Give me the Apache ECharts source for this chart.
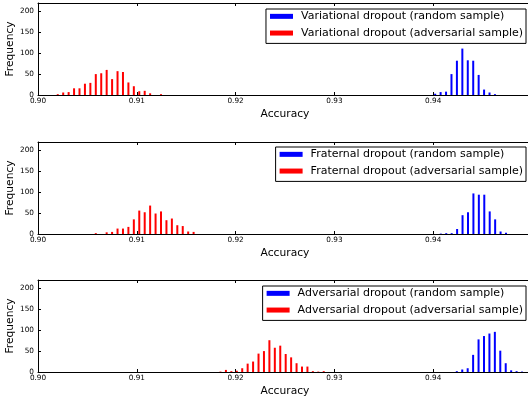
<!DOCTYPE html>
<html>
<head>
<meta charset="utf-8">
<script src="https://cdn.jsdelivr.net/npm/echarts@6/dist/echarts.min.js"></script>
<style>
  html, body { margin: 0; padding: 0; background: #fff; }
  #chart { width: 528px; height: 401px; }
</style>
</head>
<body>
<div id="chart"></div>
<script>
// bin centres and counts
var variationalRandBins = [0.9402, 0.94075, 0.9413, 0.94185, 0.9424, 0.94295, 0.9435, 0.94405, 0.9446, 0.94515, 0.9457, 0.94625]
var variationalRand = [3, 7, 8, 50, 82, 111, 83, 82, 48, 13, 6, 2]
var variationalAdvBins = [0.902, 0.90255, 0.9031, 0.90365, 0.9042, 0.90475, 0.9053, 0.90585, 0.9064, 0.90695,
    0.9075, 0.90805, 0.9086, 0.90915, 0.9097, 0.91025, 0.9108, 0.91135, 0.9119, 0.91245]
var variationalAdv = [2, 6, 7, 16, 16, 27, 29, 50, 52, 60, 38, 57, 55, 30, 21, 9, 10, 4, 0, 2]

var fraternalRandBins = [0.94077, 0.94132, 0.94187, 0.94242, 0.94297, 0.94352, 0.94407, 0.94462, 0.94517,
    0.94572, 0.94627, 0.94682, 0.94737]
var fraternalRand = [1, 2, 2, 12, 45, 52, 97, 94, 94, 54, 35, 6, 3]
var fraternalAdvBins = [0.90585, 0.9064, 0.90695, 0.9075, 0.90805, 0.9086, 0.90915, 0.9097, 0.91025, 0.9108,
    0.91135, 0.9119, 0.91245, 0.913, 0.91355, 0.9141, 0.91465, 0.9152, 0.91575]
var fraternalAdv = [2, 0, 4, 5, 13, 13, 17, 35, 56, 52, 68, 49, 54, 33, 37, 21, 19, 6, 5]

var adversarialRandBins = [0.94239, 0.94294, 0.94349, 0.94404, 0.94459, 0.94514, 0.94569, 0.94624, 0.94679,
    0.94734, 0.94789, 0.94844, 0.94899]
var adversarialRand = [2, 6, 9, 41, 78, 86, 92, 96, 51, 21, 4, 2, 1]
var adversarialAdvBins = [0.91847, 0.91902, 0.91957, 0.92012, 0.92067, 0.92122, 0.92177, 0.92232, 0.92287,
    0.92342, 0.92397, 0.92452, 0.92507, 0.92562, 0.92617, 0.92672, 0.92727, 0.92782, 0.92837, 0.92892]
var adversarialAdv = [1, 5, 2, 3, 9, 20, 25, 44, 50, 76, 58, 63, 43, 35, 21, 13, 13, 2, 1, 2]

var panelNames = ['Variational', 'Fraternal', 'Adversarial']
var xTicks = [0.90, 0.91, 0.92, 0.93, 0.94]
var yTicks = [0, 50, 100, 150, 200]

var panels = [
    [variationalRandBins, variationalRand, variationalAdvBins, variationalAdv],
    [fraternalRandBins, fraternalRand, fraternalAdvBins, fraternalAdv],
    [adversarialRandBins, adversarialRand, adversarialAdvBins, adversarialAdv]
]

var font = 'DejaVu Sans'
var gridTops = [3, 142, 280]
var legendTops = [9, 147, 286]

function pairs(bins, vals) {
    return bins.map(function (b, i) { return [b, vals[i]] })
}

var grid = [], xAxis = [], yAxis = [], series = [], legend = []
panels.forEach(function (p, i) {
    var name = panelNames[i]
    var randName = name + ' dropout (random sample)'
    var advName = name + ' dropout (adversarial sample)'
    grid.push({ left: 38, right: -4, top: gridTops[i], height: 92, outerBoundsMode: 'none', containLabel: false })
    xAxis.push({
        type: 'value', gridIndex: i, min: 0.90, max: 0.95, interval: 0.01,
        name: 'Accuracy', nameLocation: 'middle', nameGap: 14, nameMoveOverlap: false,
        nameTextStyle: { color: '#000', fontFamily: font, fontSize: 10.7 },
        axisLine: { lineStyle: { color: '#000' } },
        axisTick: { inside: true, length: 3, lineStyle: { color: '#000' } },
        axisLabel: {
            color: '#000', fontFamily: font, fontSize: 7.3, margin: 3,
            formatter: function (v) { return xTicks.indexOf(+v.toFixed(2)) >= 0 ? v.toFixed(2) : '' }
        },
        splitLine: { show: false }
    })
    yAxis.push({
        type: 'value', gridIndex: i, min: 0, max: 220, interval: 50,
        name: 'Frequency', nameLocation: 'middle', nameGap: 22, nameMoveOverlap: false,
        nameTextStyle: { color: '#000', fontFamily: font, fontSize: 10.7 },
        axisLine: { show: true, lineStyle: { color: '#000' } },
        axisTick: { show: true, inside: true, length: 3, lineStyle: { color: '#000' } },
        axisLabel: {
            color: '#000', fontFamily: font, fontSize: 7.3, margin: 4,
            formatter: function (v) { return yTicks.indexOf(v) >= 0 ? v : '' }
        },
        splitLine: { show: false }
    })
    series.push({
        name: randName, type: 'bar', xAxisIndex: i, yAxisIndex: i,
        barWidth: 2, barGap: '-100%', itemStyle: { color: '#0000ff' },
        data: pairs(p[0], p[1])
    })
    series.push({
        name: advName, type: 'bar', xAxisIndex: i, yAxisIndex: i,
        barWidth: 2, barGap: '-100%', itemStyle: { color: '#ff0000' },
        data: pairs(p[2], p[3])
    })
    legend.push({
        data: [randName, advName], orient: 'vertical', right: 2, top: legendTops[i],
        itemWidth: 23, itemHeight: 5, itemGap: 4, padding: [1, 3, 4, 4],
        borderColor: '#000', borderWidth: 1, backgroundColor: '#fff',
        icon: 'rect', selectedMode: false,
        textStyle: { color: '#000', fontFamily: font, fontSize: 11, lineHeight: 12.7, padding: [0, 0, 0, 3] }
    })
})

// top spines with inward ticks
panels.forEach(function (p, i) {
    xAxis.push({
        type: 'value', gridIndex: i, min: 0.90, max: 0.95, interval: 0.01, position: 'top',
        axisLine: { lineStyle: { color: '#000' } },
        axisTick: { inside: true, length: 3, lineStyle: { color: '#000' } },
        axisLabel: { show: false },
        splitLine: { show: false }
    })
})

var chart = echarts.init(document.getElementById('chart'))
chart.setOption({
    animation: false,
    grid: grid,
    xAxis: xAxis,
    yAxis: yAxis,
    legend: legend,
    series: series
})
</script>
</body>
</html>
